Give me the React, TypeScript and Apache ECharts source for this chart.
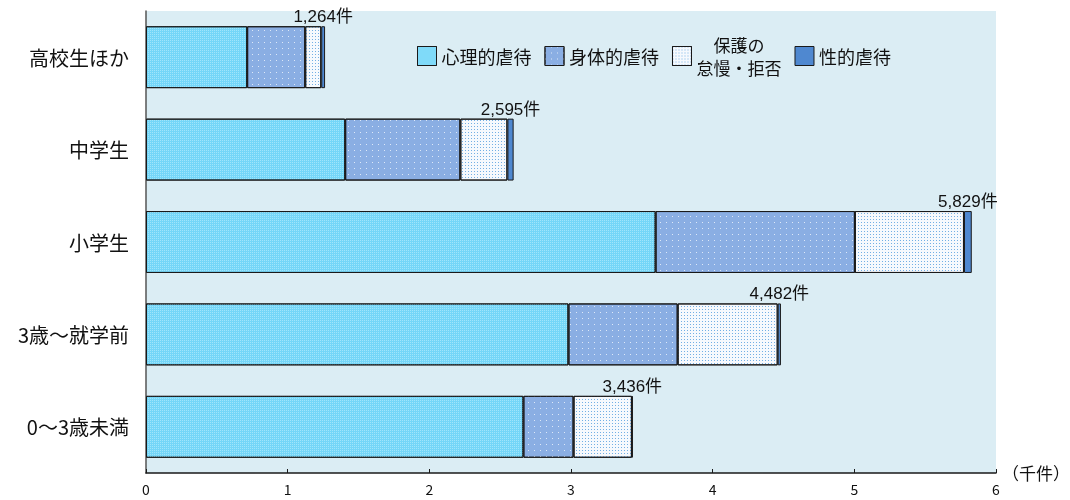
import React, { useEffect, useRef } from "react";
import * as echarts from "echarts";

// Age groups, top to bottom
const categories = ["高校生ほか", "中学生", "小学生", "3歳〜就学前", "0〜3歳未満"];
// Counts per abuse type (件)
const psychological = [714, 1406, 3597, 2982, 2664];
const physical = [410, 813, 1407, 771, 354];
const neglect = [113, 332, 770, 706, 412];
const sexual = [27, 44, 55, 23, 6];
const totals = [1264, 2595, 5829, 4482, 3436];
const xTicks = [0, 1, 2, 3, 4, 5, 6];

const FONT = "'Noto Sans CJK JP', 'Noto Sans', sans-serif";
const NUM_FONT = "'Liberation Sans', 'Noto Sans CJK JP', sans-serif";

export default function App() {
  const ref = useRef<HTMLDivElement>(null);

  useEffect(() => {
    if (!ref.current) return;
    const chart = echarts.init(ref.current, undefined, { renderer: "svg" });
    const toK = (arr: number[]) => arr.map((v) => v / 1000);
    const border = { borderColor: "#1a1a1a", borderWidth: 1 };

    chart.setOption({
      animation: false,
      textStyle: { fontFamily: FONT },
      grid: {
        left: 146,
        right: 74,
        top: 11,
        bottom: 27,
        show: true,
        backgroundColor: "#dbedf4",
        borderWidth: 0,
      },
      legend: {
        left: 412,
        top: 31,
        icon: "rect",
        itemWidth: 19,
        itemHeight: 19,
        itemGap: 13,
        formatter: (name: string) => (name.includes("\n") ? `{c|${name}}` : name),
        textStyle: {
          fontSize: 18,
          color: "#111",
          fontFamily: FONT,
          rich: {
            c: { fontSize: 17, lineHeight: 23, align: "center", color: "#111", fontFamily: FONT },
          },
        },
        itemStyle: { borderColor: "#1a1a1a", borderWidth: 1 },
        data: ["心理的虐待", "身体的虐待", "保護の\n怠慢・拒否", "性的虐待"],
      },
      xAxis: {
        type: "value",
        min: xTicks[0],
        max: xTicks[xTicks.length - 1],
        interval: 1,
        axisLine: { show: true, lineStyle: { color: "#1a1a1a", width: 1.5 } },
        axisTick: { show: true, inside: true, length: 4, lineStyle: { color: "#1a1a1a" } },
        splitLine: { show: false },
        axisLabel: { fontSize: 14, color: "#111", margin: 9, fontFamily: FONT },
      },
      yAxis: {
        type: "category",
        inverse: true,
        data: categories,
        axisLine: { show: true, lineStyle: { color: "#555", width: 1.5 } },
        axisTick: { show: false },
        axisLabel: { fontSize: 20, color: "#111", margin: 17, fontFamily: FONT },
      },
      series: [
        {
          name: "心理的虐待",
          type: "bar",
          stack: "total",
          barWidth: "67%",
          data: toK(psychological),
          itemStyle: {
            color: "#74d6f8",
            ...border,
            decal: {
              symbol: "rect",
              symbolSize: 1,
              color: "rgba(190,238,253,0.6)",
              dashArrayX: [1, 1],
              dashArrayY: [1, 1],
              rotation: 0,
            },
          },
        },
        {
          name: "身体的虐待",
          type: "bar",
          stack: "total",
          data: toK(physical),
          itemStyle: {
            color: "#8aaee3",
            ...border,
            decal: {
              symbol: "rect",
              symbolSize: 1,
              color: "rgba(235,242,252,0.85)",
              dashArrayX: [1, 5],
              dashArrayY: [1, 5],
              rotation: 0,
            },
          },
        },
        {
          name: "保護の\n怠慢・拒否",
          type: "bar",
          stack: "total",
          data: toK(neglect),
          itemStyle: {
            color: "#f6f9fd",
            ...border,
            decal: {
              symbol: "rect",
              symbolSize: 1,
              color: "rgba(70,150,220,0.75)",
              dashArrayX: [1, 2],
              dashArrayY: [1, 2],
              rotation: 0,
            },
          },
        },
        {
          name: "性的虐待",
          type: "bar",
          stack: "total",
          data: toK(sexual),
          itemStyle: { color: "#4f88d0", ...border },
          label: {
            show: true,
            position: "top",
            distance: 1,
            fontSize: 17,
            color: "#111",
            fontFamily: NUM_FONT,
            formatter: (p: any) => totals[p.dataIndex].toLocaleString("en-US") + "件",
          },
        },
      ],
      graphic: [
        {
          type: "text",
          left: 1002,
          top: 464,
          style: { text: "（千件）", fontSize: 17, fill: "#111", fontFamily: FONT },
        },
      ],
    });

    return () => chart.dispose();
  }, []);

  return (
    <div
      ref={ref}
      style={{ position: "fixed", left: 0, top: 0, width: 1070, height: 500 }}
    />
  );
}
